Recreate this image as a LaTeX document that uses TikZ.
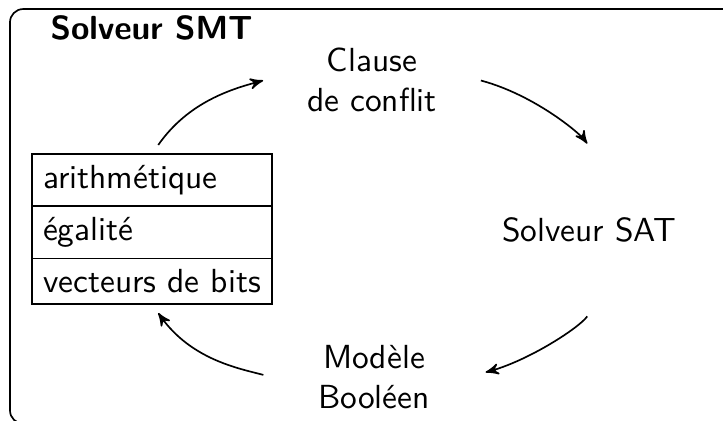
\documentclass[tikz,border=0pt]{standalone}
\usepackage{fontspec}
\usepackage{tikz}
\usetikzlibrary{arrows}
\newcommand{\theo}[1]{\makebox[2.29cm][l]{#1}}

\begin{document}
\begin{tikzpicture}[>=stealth', font=\sffamily, fleche/.style={->, line width=0.5pt}, theorie/.style={draw, anchor=north west, outer sep=0pt}]
	\useasboundingbox (0,0) rectangle (7.61,-4.43);
	\draw [line width=0.5pt, rounded corners] (0.105,-0.095) rectangle (7.8,-4.46);
	%
	\node (titre) [anchor=base west, inner sep=0pt] at (0.526,-0.421) {\bfseries Solveur SMT};
	\node (arith) [theorie] at (0.337,-1.621) {\theo{arithmétique}};
	\node (egal) [theorie] at (arith.south west) {\theo{égalité}};
	\node (bits) [theorie] at (egal.south west) {\theo{vecteurs de bits}};
	\node (clause) [align=center] at (3.916,-0.842) {Clause\\de conflit};
	\node (sat) at (6.2,-2.421) {Solveur SAT};
	\node (modele) [align=center] at (3.937,-3.968) {Modèle\\Booléen};
	%
	\draw [fleche, shorten <=0.116cm, shorten >=0.35cm] (arith.north) to [out=55, in=195] (clause.174);
	\draw [fleche, shorten <=0.35cm, shorten >=0.8cm] (clause.6) to [out=-15, in=125] (sat.30);
	\draw [fleche, shorten <=0.8cm, shorten >=0.48cm] (sat.-30) to [out=235, in=15] (modele.-6);
	\draw [fleche, shorten <=0.47cm, shorten >=0.116cm] (modele.188) to [out=165, in=-55] (bits.south);
\end{tikzpicture}
\end{document}
